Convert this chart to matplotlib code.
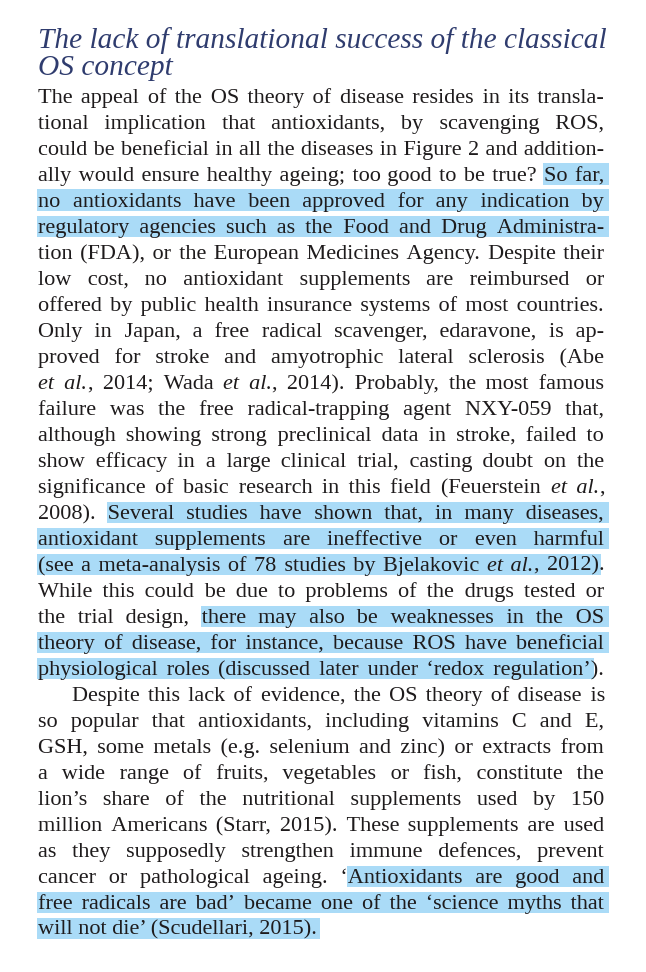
import itertools
import matplotlib
matplotlib.use('Agg')
import matplotlib.pyplot as plt
from matplotlib.patches import Rectangle

# ---- content (markup: _ toggles italic, [ ] toggles highlight) ----
title_lines = [
    "The lack of translational success of the classical",
    "OS concept",
]
body_lines = [
    "The appeal of the OS theory of disease resides in its transla-",
    "tional implication that antioxidants, by scavenging ROS,",
    "could be beneficial in all the diseases in Figure 2 and addition-",
    "ally would ensure healthy ageing; too good to be true? [So far,",
    "no antioxidants have been approved for any indication by",
    "regulatory agencies such as the Food and Drug Administra-]",
    "tion (FDA), or the European Medicines Agency. Despite their",
    "low cost, no antioxidant supplements are reimbursed or",
    "offered by public health insurance systems of most countries.",
    "Only in Japan, a free radical scavenger, edaravone, is ap-",
    "proved for stroke and amyotrophic lateral sclerosis (Abe",
    "_et al._, 2014; Wada _et al._, 2014). Probably, the most famous",
    "failure was the free radical-trapping agent NXY-059 that,",
    "although showing strong preclinical data in stroke, failed to",
    "show efficacy in a large clinical trial, casting doubt on the",
    "significance of basic research in this field (Feuerstein _et al._,",
    "2008). [Several studies have shown that, in many diseases,",
    "antioxidant supplements are ineffective or even harmful",
    "(see a meta-analysis of 78 studies by Bjelakovic _et al._, 2012)].",
    "While this could be due to problems of the drugs tested or",
    "the trial design, [there may also be weaknesses in the OS",
    "theory of disease, for instance, because ROS have beneficial",
    "physiological roles (discussed later under \u2018redox regulation\u2019]).",
    "Despite this lack of evidence, the OS theory of disease is",
    "so popular that antioxidants, including vitamins C and E,",
    "GSH, some metals (e.g. selenium and zinc) or extracts from",
    "a wide range of fruits, vegetables or fish, constitute the",
    "lion\u2019s share of the nutritional supplements used by 150",
    "million Americans (Starr, 2015). These supplements are used",
    "as they supposedly strengthen immune defences, prevent",
    "cancer or pathological ageing. \u2018[Antioxidants are good and",
    "free radicals are bad\u2019 became one of the \u2018science myths that",
    "will not die\u2019 (Scudellari, 2015).]",
]
indent_lines = [23]
ragged_lines = [32]

FONT = ['Liberation Serif', 'DejaVu Serif', 'DejaVu Sans']
TITLE_COLOR = '#2f3c6e'
TEXT_COLOR = '#1e1b1c'
HL_COLOR = '#aadbf7'

W, H = 646, 972
LEFT, RIGHT = 38.5, 604.5
TITLE_BASE = [48, 75]
BODY_BASE0, LEAD = 102.5, 26.0
INDENT = 33

fig = plt.figure(figsize=(W / 100, H / 100), dpi=100)
ax = fig.add_axes([0, 0, 1, 1])
ax.set_xlim(0, W)
ax.set_ylim(H, 0)
ax.axis('off')
renderer = fig.canvas.get_renderer()

_cache = {}
def tw(s, italic, size):
    key = (s, italic, size)
    if key not in _cache:
        t = ax.text(0, 0, s, fontsize=size, family=FONT,
                    style='italic' if italic else 'normal')
        _cache[key] = t.get_window_extent(renderer).width
        t.remove()
    return _cache[key]

def adv(s, italic, size):
    return tw(s + 'x', italic, size) - tw('x', italic, size)

# ---- parse body ----
def parse(lines):
    italic = False
    hl = False
    out = []
    for line in lines:
        items = []
        word = []
        cur = ''
        def flush_run():
            nonlocal cur
            if cur:
                word.append([cur, italic, hl])
            cur = ''
        for ch in line:
            if ch == '_':
                flush_run(); italic = not italic
            elif ch in '[]':
                flush_run(); hl = (ch == '[')
            elif ch == ' ':
                flush_run()
                if word:
                    items.append(('word', word))
                word = []
                items.append(('space', hl))
            else:
                cur += ch
        flush_run()
        if word:
            items.append(('word', word))
        out.append((items, hl))
    return out

parsed = parse(body_lines)

# ---- choose body size ----
BASE = 16.0
need = 1.0
for i, (items, _) in enumerate(parsed):
    if i in ragged_lines:
        continue
    words = [it for it in items if it[0] == 'word']
    total = sum(tw(r[0], r[1], BASE) for w in words for r in w[1])
    avail = RIGHT - LEFT - (INDENT if i in indent_lines else 0)
    minspace = 3.2 * (len(words) - 1)
    f = (avail - minspace) / total
    need = min(need, f)
size = round(BASE * need, 2)

# ---- space combinations for justification ----
SPACES = [' ', '\u2009', '\u200a', '\u2006', '\u2005', '\u2004', '\u2002']
def build_combos(italic):
    sw = {c: adv('x' + c, italic, size) - adv('x', italic, size) for c in SPACES}
    sw = {c: v for c, v in sw.items() if v > 0.3}
    combos = {}
    for n in (1, 2, 3):
        for cmb in itertools.combinations_with_replacement(list(sw), n):
            wv = round(sum(sw[c] for c in cmb), 2)
            s = ''.join(cmb)
            if wv not in combos or len(s) < len(combos[wv]):
                combos[wv] = s
    return sorted(combos.items())
COMBOS = {False: build_combos(False), True: build_combos(True)}

def pick(target, italic):
    return min(COMBOS[italic], key=lambda c: abs(c[0] - target))

def compose(items, gap, ragged):
    segs = []
    runs = []
    def add(text, ital):
        if not segs or segs[-1][1] != ital:
            segs.append(['', ital])
        s = segs[-1]
        a = len(s[0])
        s[0] += text
        return len(segs) - 1, a, len(s[0])
    err = 0.0
    last_ital = False
    for it in items:
        if it[0] == 'space':
            if ragged:
                sp = ' '
            else:
                wv, sp = pick(gap + err, last_ital)
                err = gap + err - wv
            add(sp, last_ital)
        else:
            for txt, ital, h in it[1]:
                si, a, b = add(txt, ital)
                runs.append((si, a, b, h, txt, ital))
                last_ital = ital
    return segs, runs

# ---- title ----
tsize = 20.0
tscale = (RIGHT + 3 - LEFT) / tw(title_lines[0], True, tsize)
tsize = tsize * tscale
for txt, yb in zip(title_lines, TITLE_BASE):
    ax.text(LEFT, yb, txt, fontsize=tsize, family=FONT, style='italic',
            color=TITLE_COLOR, va='baseline', ha='left')

# ---- body ----
for i, (items, hl_end) in enumerate(parsed):
    yb = BODY_BASE0 + LEAD * i
    x0 = LEFT + (INDENT if i in indent_lines else 0)
    ragged = i in ragged_lines
    words = [it for it in items if it[0] == 'word']
    total = sum(tw(r[0], r[1], size) for w in words for r in w[1])
    nsp = sum(1 for it in items if it[0] == 'space')
    gap = (RIGHT - x0 - total) / max(nsp, 1)
    for _ in range(3):
        segs, runs = compose(items, gap, ragged)
        seg_x = [x0]
        for s, ital in segs[:-1]:
            seg_x.append(seg_x[-1] + adv(s, ital, size))
        right = seg_x[-1] + tw(segs[-1][0], segs[-1][1], size)
        resid = RIGHT - right
        if ragged or abs(resid) < 0.6 or nsp == 0:
            break
        gap += resid / nsp
    for (s, ital), sx in zip(segs, seg_x):
        ax.text(sx, yb, s, fontsize=size, family=FONT,
                style='italic' if ital else 'normal',
                color=TEXT_COLOR, va='baseline', ha='left', zorder=3)
    # highlight band
    hx = []
    for si, a, b, h, txt, ital in runs:
        if h:
            seg_text, seg_it = segs[si]
            xe = seg_x[si] + tw(seg_text[:b], seg_it, size)
            xs = xe - tw(txt, ital, size)
            hx.append((xs, xe))
    if hx:
        a = min(p[0] for p in hx)
        b = max(p[1] for p in hx)
        first_hl = runs[0][3]
        last_hl = runs[-1][3]
        if first_hl:
            a = LEFT - 2
        else:
            a = a - 1.5
        if last_hl and not ragged:
            b = RIGHT + 4.5
        else:
            b = b + 2.5
        ax.add_patch(Rectangle((a, yb - 17), b - a, 21.5,
                               facecolor=HL_COLOR, edgecolor='none', zorder=1))

fig.savefig('out.png', dpi=100, facecolor='white')
